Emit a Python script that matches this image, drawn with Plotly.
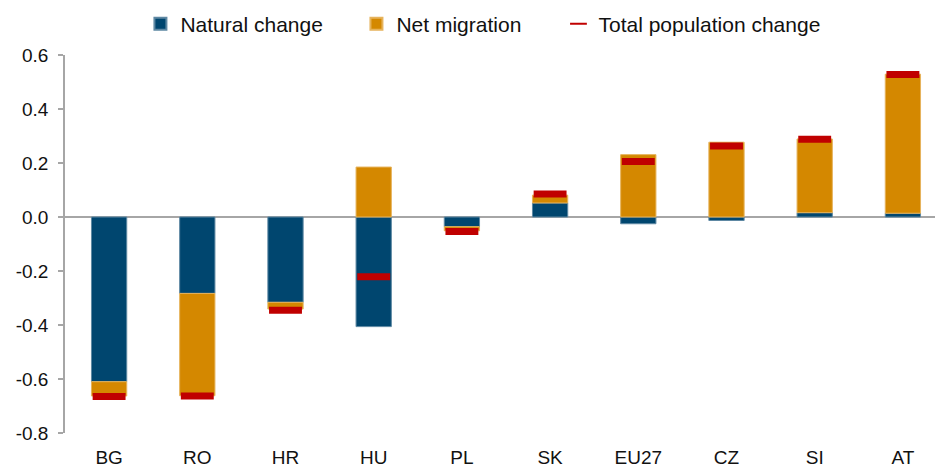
import plotly.graph_objects as go

countries = ["BG", "RO", "HR", "HU", "PL", "SK", "EU27", "CZ", "SI", "AT"]
natural_change = [-0.610, -0.283, -0.316, -0.406, -0.036, 0.052, -0.025, -0.013, 0.016, 0.014]
net_migration = [-0.053, -0.379, -0.025, 0.185, -0.015, 0.029, 0.231, 0.277, 0.273, 0.515]
total_change = [-0.665, -0.663, -0.345, -0.221, -0.054, 0.085, 0.206, 0.263, 0.288, 0.528]
y_ticks = [-0.8, -0.6, -0.4, -0.2, 0.0, 0.2, 0.4, 0.6]

BLUE = "#00466F"
ORANGE = "#D48800"
RED = "#C00000"
GRAY = "#A6A6A6"
FONT = "Liberation Sans, Arial, sans-serif"

x = list(range(len(countries)))

fig = go.Figure()
fig.add_trace(go.Bar(
    x=x, y=natural_change, name="Natural change", width=0.4, legend="legend",
    marker=dict(color=BLUE, line=dict(color="#5E88A3", width=1)),
))
fig.add_trace(go.Bar(
    x=x, y=net_migration, name="Net migration", width=0.4, legend="legend2",
    marker=dict(color=ORANGE, line=dict(color="#E6B35C", width=1)),
))
fig.add_trace(go.Scatter(
    x=x, y=total_change, name="Total population change", mode="markers",
    legend="legend3",
    marker=dict(symbol="line-ew", size=23.5, color=RED,
                line=dict(color=RED, width=7)),
))

legend_common = dict(
    orientation="h", xanchor="left", y=1.082, yanchor="middle",
    font=dict(family=FONT, size=21, color="#111111"),
    itemsizing="constant", bgcolor="rgba(0,0,0,0)",
)

fig.update_layout(
    width=935, height=468,
    barmode="relative",
    paper_bgcolor="white", plot_bgcolor="white",
    margin=dict(l=65, r=0, t=55, b=35, autoexpand=False),
    font=dict(family=FONT, size=19, color="#111111"),
    showlegend=True,
    legend=dict(x=0.0867, **legend_common),
    legend2=dict(x=0.3350, **legend_common),
    legend3=dict(x=0.5672, **legend_common),
    xaxis=dict(
        range=[-0.5, 9.364], tickmode="array", tickvals=x, ticktext=countries,
        showline=False, showgrid=False, zeroline=False, ticks="",
        ticklabelstandoff=11, tickfont=dict(size=19),
    ),
    yaxis=dict(
        range=[-0.8, 0.6], tickmode="array", tickvals=y_ticks,
        ticktext=[f"{v:.1f}" for v in y_ticks],
        showline=True, linecolor=GRAY, linewidth=1.5,
        ticks="outside", ticklen=5, tickcolor=GRAY, tickwidth=1.5,
        showgrid=False, zeroline=True, zerolinecolor=GRAY, zerolinewidth=2,
        ticklabelstandoff=6, tickfont=dict(size=19),
    ),
)

fig.write_html("out.html", config={"displayModeBar": False},
               post_script="document.body.style.margin='0px';")
